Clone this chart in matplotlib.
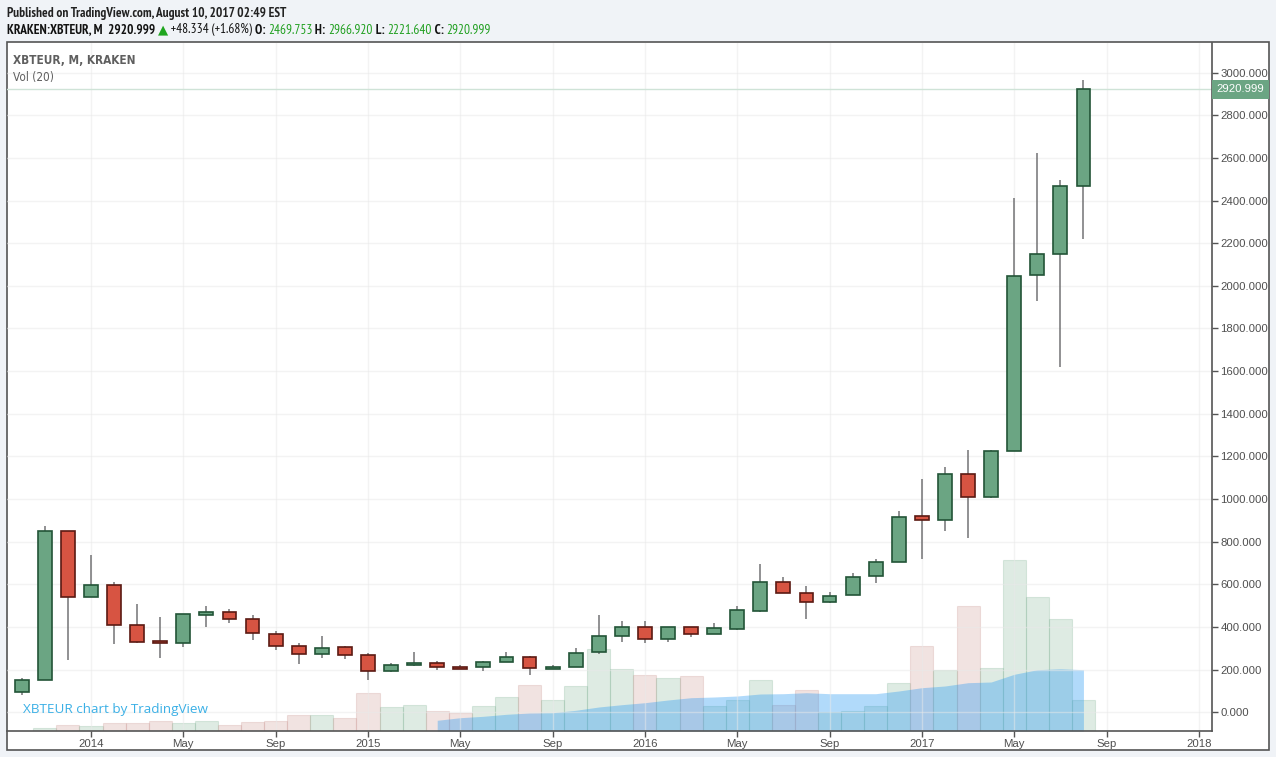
import matplotlib
matplotlib.use('Agg')
import matplotlib.pyplot as plt
from matplotlib.patches import Rectangle

# monthly XBTEUR candles
months = ['2013-10', '2013-11', '2013-12',
          '2014-01', '2014-02', '2014-03', '2014-04', '2014-05', '2014-06',
          '2014-07', '2014-08', '2014-09', '2014-10', '2014-11', '2014-12',
          '2015-01', '2015-02', '2015-03', '2015-04', '2015-05', '2015-06',
          '2015-07', '2015-08', '2015-09', '2015-10', '2015-11', '2015-12',
          '2016-01', '2016-02', '2016-03', '2016-04', '2016-05', '2016-06',
          '2016-07', '2016-08', '2016-09', '2016-10', '2016-11', '2016-12',
          '2017-01', '2017-02', '2017-03', '2017-04', '2017-05', '2017-06',
          '2017-07', '2017-08']
opens = [94, 150, 849,
         539, 596, 408, 333, 324, 458, 469, 436, 366, 310, 272, 305,
         267, 195, 220, 230, 211, 211, 235, 258, 205, 212, 281, 356,
         399, 342, 399, 366, 392, 475, 610, 558, 516, 549, 638, 704,
         919, 900, 1119, 1008, 1226, 2050, 2148, 2469.753]
highs = [161, 874, 849,
         738, 611, 508, 447, 460, 499, 485, 456, 381, 324, 358, 311,
         277, 231, 283, 241, 220, 241, 283, 264, 220, 302, 458, 428,
         428, 399, 399, 419, 499, 696, 635, 592, 564, 653, 719, 944,
         1094, 1151, 1230, 1228, 2414, 2623, 2495, 2966.920]
lows = [83, 150, 247,
        539, 322, 327, 256, 308, 402, 420, 341, 294, 228, 256, 251,
        152, 191, 219, 200, 204, 195, 235, 176, 204, 211, 275, 331,
        327, 331, 355, 366, 387, 472, 557, 436, 511, 549, 608, 704,
        719, 852, 819, 1004, 1224, 1931, 1618, 2221.640]
closes = [150, 849, 539,
          596, 408, 331, 324, 460, 469, 436, 370, 310, 272, 300, 267,
          195, 220, 231, 211, 205, 235, 258, 206, 212, 277, 356, 399,
          342, 399, 366, 394, 478, 610, 558, 516, 547, 636, 704, 915,
          900, 1119, 1008, 1224, 2048, 2148, 2470, 2920.999]
# volume (relative units)
vol = [0.5, 2.7, 5.7,
       4.7, 7.7, 7.7, 10, 7.7, 10, 5.7, 8.7, 9.7, 15.7, 15.7, 12.7,
       38, 23.7, 26, 20, 17.7, 25, 34, 46, 31, 45, 82, 62,
       56, 53, 55, 25, 31, 51, 26, 41, 19, 20, 25, 48,
       85, 61, 125, 63, 171, 134, 112, 31]
# Vol (20) moving average, from 2015-04 on
ma_start = '2015-04'
vol_ma = [10.7, 13.3, 14.7, 16.7, 18, 18.3, 20.7, 24, 26.3,
          28.3, 31, 33.3, 34, 35, 37, 37.3, 38.3, 37.3, 37.3, 37.3, 40,
          43.3, 45, 48.3, 49, 56.7, 61.3, 62.3, 61.3]

price_ticks = [0, 200, 400, 600, 800, 1000, 1200, 1400, 1600, 1800, 2000,
               2200, 2400, 2600, 2800, 3000]
date_ticks = ['2014-01', '2014-05', '2014-09', '2015-01', '2015-05', '2015-09',
              '2016-01', '2016-05', '2016-09', '2017-01', '2017-05', '2017-09',
              '2018-01']
date_labels = ['2014', 'May', 'Sep', '2015', 'May', 'Sep', '2016', 'May', 'Sep',
               '2017', 'May', 'Sep', '2018']
last_price = 2920.999


def idx(m):
    y, mo = m.split('-')
    return (int(y) - 2014) * 12 + int(mo) - 1


UP = '#6ba583'
UP_EDGE = '#225437'
DN = '#d75442'
DN_EDGE = '#5b1a13'
TXT = '#4f4f4f'
NARROW = dict(family='DejaVu Sans', stretch='condensed')
HEAD = ['PT Sans Narrow', 'DejaVu Sans']

W, H = 1276, 757
fig = plt.figure(figsize=(W / 100, H / 100), dpi=100)
fig.patch.set_facecolor('#f0f3f7')

rect = [7 / W, 1 - 731 / H, (1212 - 7) / W, (731 - 43) / H]

# outer chart panel
fig.patches.append(Rectangle((7 / W, 1 - 750 / H), (1269 - 7) / W, (750 - 42) / H,
                             transform=fig.transFigure, facecolor='white',
                             edgecolor='#555555', linewidth=1.2, zorder=-10))

x = [idx(m) for m in months]
xlim = (-3.64, 48.57)

# volume pane behind the price axes
axv = fig.add_axes(rect)
axv.set_xlim(xlim)
axv.set_ylim(0, 688)
axv.axis('off')
for i in range(len(x)):
    if closes[i] >= opens[i]:
        axv.bar(x[i], vol[i], width=1.0, color=UP, alpha=0.22,
                edgecolor=UP, linewidth=0.8)
    else:
        axv.bar(x[i], vol[i], width=1.0, color='#c8908a', alpha=0.25,
                edgecolor='#c8908a', linewidth=0.8)
xm = [idx(ma_start) + i for i in range(len(vol_ma))]
axv.fill_between(xm, 0, vol_ma, color='#2196f3', alpha=0.35, linewidth=0)

ax = fig.add_axes(rect)
ax.patch.set_visible(False)
ax.set_xlim(xlim)
ax.set_ylim(-88, 3139)

ax.set_xticks([idx(m) for m in date_ticks])
ax.set_xticklabels(date_labels)
ax.set_yticks(price_ticks)
ax.set_yticklabels(['%.3f' % v for v in price_ticks])
ax.yaxis.tick_right()
ax.grid(True, color='#e9e9e9', linewidth=1.0, alpha=0.5, zorder=0)
ax.set_axisbelow(True)
for s in ['top', 'left']:
    ax.spines[s].set_visible(False)
for s in ['right', 'bottom']:
    ax.spines[s].set_color('#555555')
    ax.spines[s].set_linewidth(1.2)
ax.tick_params(axis='both', colors='#555555', labelcolor=TXT, labelsize=8.2,
               length=4, width=1)
ax.tick_params(axis='x', pad=2)
ax.tick_params(axis='y', pad=2)
for lab in ax.get_xticklabels() + ax.get_yticklabels():
    lab.set_family('Liberation Sans')

# candles
for i in range(len(x)):
    o, h, l, c = opens[i], highs[i], lows[i], closes[i]
    up = c >= o
    ax.vlines(x[i], l, h, color='#737375', linewidth=1.1, zorder=2)
    ax.bar(x[i], max(abs(c - o), 6), bottom=min(o, c), width=0.6,
           color=UP if up else DN, edgecolor=UP_EDGE if up else DN_EDGE,
           linewidth=1.2, zorder=3)

# last price line and label
ax.axhline(last_price, color='#cfe3d7', linewidth=1, zorder=1)
ax.text(1.004, last_price, '%.3f' % last_price, transform=ax.get_yaxis_transform(),
        ha='left', va='center', color='white', fontsize=8.2, family='Liberation Sans',
        bbox=dict(boxstyle='square,pad=0.38', facecolor=UP, edgecolor='none'))

fig.text(13 / W, 1 - 60 / H, 'XBTEUR, M, KRAKEN', ha='left', va='center',
         color='#5f5f5f', fontsize=8.5, fontweight='bold', **NARROW)
fig.text(13 / W, 1 - 77 / H, 'Vol (20)', ha='left', va='center',
         color='#5f5f5f', fontsize=8.5, **NARROW)
fig.text(23 / W, 1 - 710 / H, 'XBTEUR chart by TradingView', ha='left', va='center',
         color='#3bb0e6', fontsize=9.7, family='Open Sans')

# header
fig.text(7 / W, 1 - 13 / H, 'Published on TradingView.com, August 10, 2017 02:49 EST',
         ha='left', va='center', color='#222222', fontsize=9.5, fontweight='bold',
         family=HEAD)

GREEN = '#1f9f1f'
parts = [('KRAKEN:XBTEUR, M  2920.999 ', '#111111', 'bold'),
         ('\u25b2', '#1fa51f', 'normal'),
         (' +48.334 (+1.68%) ', '#111111', 'normal'),
         ('O: ', '#111111', 'bold'), ('2469.753', GREEN, 'normal'),
         (' H: ', '#111111', 'bold'), ('2966.920', GREEN, 'normal'),
         (' L: ', '#111111', 'bold'), ('2221.640', GREEN, 'normal'),
         (' C: ', '#111111', 'bold'), ('2920.999', GREEN, 'normal')]
renderer = fig.canvas.get_renderer()
px = 7
for s, col, wt in parts:
    t = fig.text(px / W, 1 - 30 / H, s, ha='left', va='center', color=col,
                 fontsize=9.5, fontweight=wt, family=HEAD)
    px += t.get_window_extent(renderer).width

fig.savefig('out.png', dpi=100, facecolor=fig.get_facecolor())
